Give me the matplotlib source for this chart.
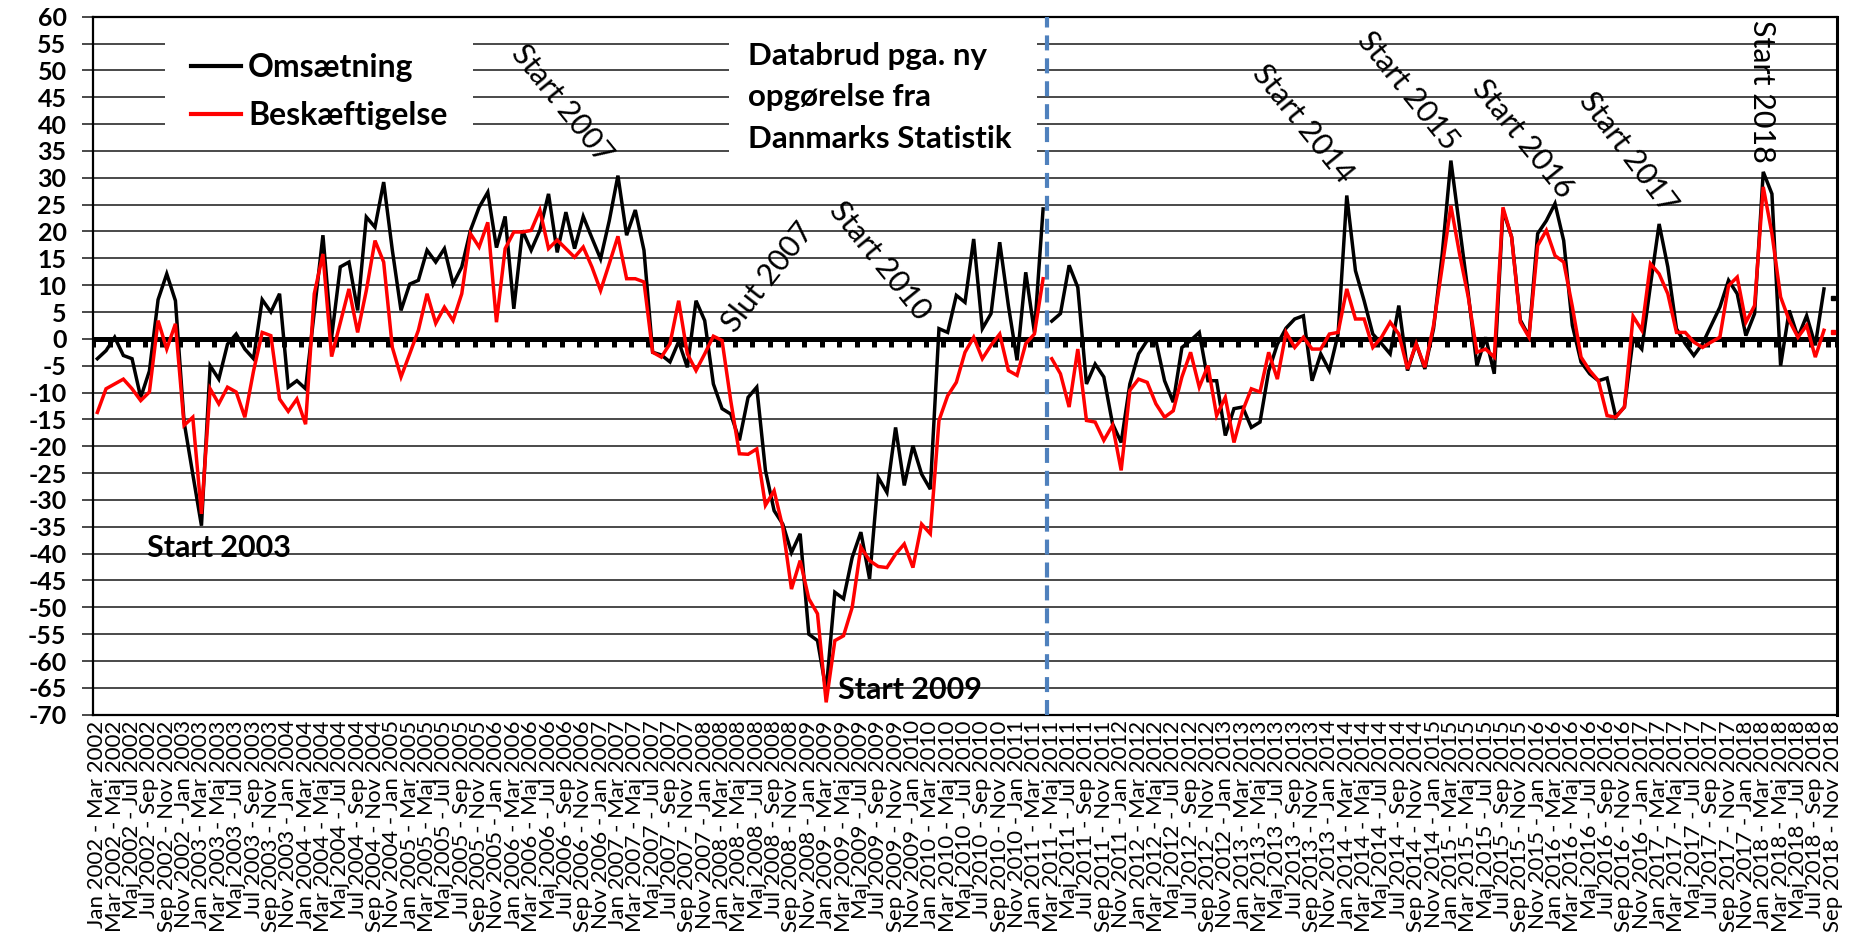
import matplotlib
matplotlib.use("Agg")
import matplotlib.pyplot as plt
from matplotlib.patches import Rectangle
from matplotlib.lines import Line2D

MONTHS = ["Jan", "Feb", "Mar", "Apr", "Maj", "Jun", "Jul", "Aug", "Sep", "Okt", "Nov", "Dec"]
FIRST_YEAR = 2002
N_PERIODS = 201

# rolling 3-month periods, "Jan 2002 - Mar 2002" ... "Sep 2018 - Nov 2018"
PERIODS = ["%s %d - %s %d" % (MONTHS[m % 12], FIRST_YEAR + m // 12,
                             MONTHS[(m + 2) % 12], FIRST_YEAR + (m + 2) // 12)
           for m in range(N_PERIODS)]

OMSAETNING = [
    -3.7, -2.2, 0.3, -3.1, -3.7, -10.9, -6.0, 7.3, 12.1, 7.1,
    -15.5, -25.2, -34.8, -5.0, -7.5, -1.0, 0.9, -1.9, -3.7, 7.3,
    5.0, 8.4, -9.0, -7.8, -9.3, 5.0, 19.3, 0.3, 13.4, 14.3,
    5.3, 22.7, 20.8, 29.2, 16.5, 5.3, 10.2, 10.9, 16.5, 14.3,
    16.8, 10.2, 13.4, 20.2, 24.5, 27.3, 17.0, 22.8, 5.6, 20.2,
    16.5, 20.2, 27.0, 16.1, 23.6, 16.8, 22.8, 18.8, 14.9, 22.0,
    30.4, 19.3, 24.0, 16.5, -2.5, -3.0, -4.3, -0.5, -5.3, 7.1,
    3.4, -8.4, -13.0, -14.0, -18.9, -10.9, -9.0, -24.5, -32.0, -34.5,
    -39.8, -36.3, -55.0, -56.2, -65.5, -47.2, -48.4, -40.7, -36.0, -44.7,
    -25.8, -28.6, -16.5, -27.3, -19.9, -25.2, -28.0, 1.9, 1.2, 8.1,
    6.8, 18.6, 1.9, 4.7, 18.0, 6.2, -4.0, 12.4, 1.2, 24.2,
    3.3, 4.7, 13.7, 9.6, -8.4, -4.7, -7.1, -15.8, -19.3, -8.4,
    -2.8, -0.3, -0.3, -7.8, -11.8, -1.6, -0.3, 1.2, -7.8, -7.8,
    -18.0, -13.0, -12.7, -16.5, -15.5, -6.0, -1.0, 2.0, 3.7, 4.3,
    -7.8, -2.8, -5.9, 0.9, 26.7, 12.7, 7.1, 0.9, -0.9, -2.8,
    6.2, -5.9, -0.9, -5.6, 1.9, 15.8, 33.2, 20.8, 8.4, -5.0,
    0.3, -6.5, 24.0, 19.0, 3.5, 0.5, 19.6, 22.0, 25.2, 18.3,
    2.5, -4.3, -6.5, -7.8, -7.3, -14.5, -12.7, 0.0, -1.9, 10.0,
    21.4, 13.4, 1.9, -0.9, -3.1, -0.9, 2.5, 5.9, 10.9, 8.4,
    0.6, 4.7, 31.1, 27.0, -5.0, 5.3, 0.3, 4.3, -1.2, 9.3,
    7.6,
]

BESKAEFTIGELSE = [
    -13.7, -9.3, -8.4, -7.5, -9.3, -11.5, -9.9, 3.4, -1.9, 2.8,
    -16.1, -14.6, -32.6, -9.3, -12.1, -9.0, -9.9, -14.6, -6.0, 1.2,
    0.6, -11.2, -13.5, -11.2, -15.9, 8.4, 15.8, -3.3, 3.0, 9.3,
    1.2, 9.0, 18.3, 14.3, -1.6, -7.1, -2.8, 1.6, 8.4, 2.9,
    5.9, 3.4, 8.4, 19.6, 17.1, 21.7, 3.1, 16.8, 19.9, 19.9,
    20.2, 24.0, 16.8, 18.4, 16.8, 15.2, 17.1, 13.4, 9.0, 14.0,
    19.1, 11.2, 11.2, 10.6, -2.5, -3.4, -0.9, 7.1, -2.8, -5.9,
    -2.8, 0.5, -0.3, -11.5, -21.4, -21.5, -20.5, -31.0, -28.3, -35.1,
    -46.6, -41.3, -48.4, -51.2, -67.7, -56.2, -55.3, -50.0, -38.8, -41.3,
    -42.4, -42.6, -40.1, -38.2, -42.6, -34.5, -36.3, -15.2, -10.6, -8.1,
    -2.5, 0.3, -3.7, -1.2, 0.9, -5.9, -6.8, -0.9, 0.9, 11.2,
    -3.7, -6.5, -12.7, -1.9, -15.2, -15.5, -18.9, -16.1, -24.5, -9.6,
    -7.5, -8.1, -12.1, -14.6, -13.4, -7.1, -2.5, -9.0, -5.0, -14.3,
    -10.9, -19.3, -13.4, -9.3, -9.9, -2.5, -7.5, 1.2, -1.6, 0.3,
    -1.9, -1.9, 0.9, 1.2, 9.3, 3.7, 3.7, -1.6, 0.3, 3.1,
    0.9, -5.6, -0.9, -5.3, 2.5, 13.4, 24.8, 15.8, 7.8, -2.5,
    -1.9, -3.4, 24.5, 18.9, 3.1, 0.3, 17.4, 20.2, 15.5, 14.3,
    6.0, -3.4, -5.9, -7.8, -14.3, -14.6, -12.7, 4.2, 1.6, 14.0,
    12.1, 8.4, 1.2, 1.2, -0.6, -1.6, -0.6, 0.3, 9.9, 11.5,
    3.1, 6.2, 28.3, 19.6, 7.8, 3.4, 0.3, 2.5, -3.4, 1.6,
    1.2,
]

SERIES = [("Omsætning", OMSAETNING, "#000000"),
          ("Beskæftigelse", BESKAEFTIGELSE, "#FF0000")]

BREAK = 110          # first period of the new Danmarks Statistik series
LAST_FULL = 200      # the last period is only a loose point

Y_TICKS = list(range(-70, 61, 5))

# text, period, value, rotation, bold
NOTES = [
    ("Start 2003", 5.7, -39.0, 0, True),
    ("Start 2009", 85.4, -65.4, 0, True),
    ("Start 2007", 53.6, 43.8, -51, False),
    ("Slut 2007", 77.3, 11.5, 52, False),
    ("Start 2010", 90.2, 14.6, -51, False),
    ("Start 2014", 138.9, 40.1, -51, False),
    ("Start 2015", 151.0, 46.2, -51, False),
    ("Start 2016", 164.3, 37.3, -51, False),
    ("Start 2017", 176.4, 34.7, -53, False),
    ("Start 2018", 191.8, 46.0, -90, False),
]

FONT = ["Lato", "DejaVu Sans"]
plt.rcParams["font.family"] = FONT

fig = plt.figure(figsize=(18.56, 9.47), dpi=100)
ax = fig.add_axes([93 / 1856, 1 - 714.7 / 947, 1744 / 1856, 698 / 947])

x = list(range(N_PERIODS))
for name, values, color in SERIES:
    ax.plot(x[:BREAK], values[:BREAK], color=color, lw=2.5, zorder=3,
            solid_joinstyle="miter")
    ax.plot(x[BREAK:LAST_FULL], values[BREAK:LAST_FULL], color=color, lw=2.5,
            zorder=3, solid_joinstyle="miter")
    ax.plot([x[LAST_FULL]], [values[LAST_FULL]], "s", color=color, ms=2.5,
            zorder=3)

ax.set_xlim(-0.5, N_PERIODS - 0.5)
ax.set_ylim(-70, 60)

# grid and axes
ax.set_yticks(Y_TICKS)
ax.set_yticklabels([str(v) for v in Y_TICKS], fontsize=18, fontweight="bold")
ax.grid(axis="y", color="#3a3a3a", lw=1.3)
ax.set_axisbelow(True)
ax.tick_params(axis="y", length=8, width=1.3, color="#3a3a3a", pad=11)

ax.set_xticks(x[::2])
ax.set_xticklabels(PERIODS[::2], rotation=90, fontsize=16)
ax.tick_params(axis="x", length=0, pad=4)

for side in ["left", "top", "bottom"]:
    ax.spines[side].set_linewidth(1.6)
ax.spines["right"].set_linewidth(2.2)

# horizontal axis through zero with tick marks between every 2nd period
ax.axhline(0, color="black", lw=3.6, zorder=2.5)
ax.vlines([p - 0.5 for p in x[::2]] + [N_PERIODS - 0.5], -1.5, 0,
          color="black", lw=3.6, zorder=2.5)

# break in data
ax.axvline(BREAK - 0.5, color="#4F81BD", lw=3, ls=(0, (3.6, 1.9)), zorder=2.6)

# white boxes behind legend and comment
ax.add_patch(Rectangle((0.0413, 0.8234), 0.1766, 0.1766, transform=ax.transAxes,
                       facecolor="white", edgecolor="none", zorder=1))
ax.add_patch(Rectangle((0.3647, 0.7875), 0.1766, 0.2125, transform=ax.transAxes,
                       facecolor="white", edgecolor="none", zorder=1))

handles = [Line2D([], [], color=c, lw=3) for _, _, c in SERIES]
ax.legend(handles, [n for n, _, _ in SERIES], loc="upper left",
          bbox_to_anchor=(0.0563, 0.948), frameon=False,
          prop={"family": FONT, "weight": "bold", "size": 23},
          handlelength=1.56, handletextpad=0.22, labelspacing=0.6,
          borderpad=0, borderaxespad=0)

ax.text(75.0, 45.0, "Databrud pga. ny\nopgørelse fra\nDanmarks Statistik",
        ha="left", va="center", fontsize=22.5, fontweight="bold",
        linespacing=1.58, zorder=4)

for text, period, value, rot, bold in NOTES:
    ax.text(period, value, text, rotation=rot, rotation_mode="anchor",
            ha="left" if rot == 0 else "center", va="center",
            fontsize=22,
            fontweight="bold" if bold else "normal", zorder=4)

fig.savefig("out.png", dpi=100)
